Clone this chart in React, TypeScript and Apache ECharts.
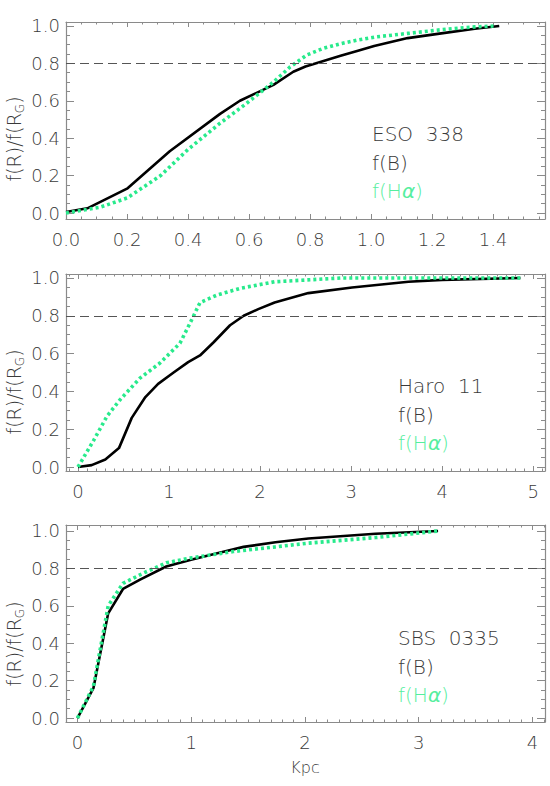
import React, { useEffect, useRef } from "react";
import * as echarts from "echarts";

// ---------------- data ----------------
// Panel 1: ESO 338
const ESO_B: number[][] = [
  [0, 0.005], [0.07, 0.025], [0.2, 0.13], [0.34, 0.33], [0.505, 0.53], [0.57, 0.6],
  [0.68, 0.685], [0.745, 0.755], [0.785, 0.783], [0.82, 0.8], [0.9, 0.84], [0.957, 0.867],
  [1.01, 0.893], [1.12, 0.935], [1.23, 0.96], [1.34, 0.985], [1.42, 1.0],
];
const ESO_HA: number[][] = [
  [0, 0.0], [0.11, 0.03], [0.2, 0.08], [0.31, 0.2], [0.4, 0.34], [0.505, 0.48],
  [0.587, 0.58], [0.68, 0.7], [0.734, 0.78], [0.79, 0.845], [0.843, 0.88], [0.9, 0.905],
  [0.957, 0.925], [1.01, 0.94], [1.12, 0.96], [1.23, 0.98], [1.34, 0.995], [1.41, 1.0],
];
// Panel 2: Haro 11
const HARO_B: number[][] = [
  [0, 0], [0.15, 0.01], [0.3, 0.04], [0.45, 0.1], [0.59, 0.26], [0.74, 0.37],
  [0.88, 0.44], [1.05, 0.5], [1.21, 0.555], [1.34, 0.59], [1.49, 0.66], [1.67, 0.75],
  [1.82, 0.8], [1.98, 0.835], [2.16, 0.87], [2.53, 0.92], [3.01, 0.95], [3.63, 0.98],
  [4.0, 0.99], [4.86, 1.0],
];
const HARO_HA: number[][] = [
  [0, 0], [0.17, 0.14], [0.32, 0.27], [0.46, 0.355], [0.68, 0.47], [0.9, 0.55],
  [1.12, 0.655], [1.25, 0.78], [1.34, 0.87], [1.53, 0.91], [1.78, 0.945],
  [2.16, 0.98], [2.9, 1.0], [4.86, 1.0],
];
// Panel 3: SBS 0335
const SBS_B: number[][] = [
  [0, 0], [0.14, 0.16], [0.27, 0.56], [0.4, 0.69], [0.55, 0.74], [0.78, 0.81],
  [0.99, 0.845], [1.22, 0.88], [1.46, 0.915], [1.74, 0.94], [2.03, 0.96],
  [2.62, 0.985], [3.17, 1.0],
];
const SBS_HA: number[][] = [
  [0, 0], [0.14, 0.17], [0.27, 0.6], [0.4, 0.72], [0.58, 0.775], [0.78, 0.83],
  [0.99, 0.855], [1.37, 0.89], [1.74, 0.915], [2.03, 0.935], [2.62, 0.965], [3.17, 1.0],
];

const PANEL_NAMES = ["ESO  338", "Haro  11", "SBS  0335"];
const THRESHOLD = 0.8;

// tick labels
const Y_MAJOR = [0, 0.2, 0.4, 0.6, 0.8, 1.0];
const X_MAJOR_1 = [0, 0.2, 0.4, 0.6, 0.8, 1.0, 1.2, 1.4];
const X_MAJOR_2 = [0, 1, 2, 3, 4, 5];
const X_MAJOR_3 = [0, 1, 2, 3, 4];
const X_TITLE = "Kpc";

// ---------------- styling ----------------
const FONT = "'DejaVu Sans', 'Liberation Sans', sans-serif";
const FW = 200;
const AX = "#8a8a8a";
const TXT = "#3a3a3a";
const GREEN = "#28ea8c";
const GREEN_TXT = "#55ee9e";

function steps(a: number, b: number, s: number): number[] {
  const out: number[] = [];
  const n = Math.round((b - a) / s);
  for (let i = 0; i <= n; i++) out.push(+(a + i * s).toFixed(4));
  return out;
}

const Y_MINOR = steps(0, 1, 0.05);

type PanelCfg = {
  top: number;
  xmin: number;
  xmax: number;
  ymin: number;
  ymax: number;
  xMajor: number[];
  xMinor: number[];
  xFmt: (v: number) => string;
  b: number[][];
  ha: number[][];
  name: string;
  textX: number;
  textY: number;
  titleY: number;
};

const GRID_LEFT = 66;
const GRID_RIGHT = 5;
const GRID_H = 197;

const PANELS: PanelCfg[] = [
  {
    top: 22, xmin: 0, xmax: 1.57, ymin: -0.032, ymax: 1.021,
    xMajor: X_MAJOR_1, xMinor: steps(0, 1.55, 0.05), xFmt: (v) => v.toFixed(1),
    b: ESO_B, ha: ESO_HA, name: PANEL_NAMES[0], textX: 372, textY: 133, titleY: 139,
  },
  {
    top: 274, xmin: -0.132, xmax: 5.13, ymin: -0.021, ymax: 1.021,
    xMajor: X_MAJOR_2, xMinor: steps(-0.1, 5.1, 0.1), xFmt: (v) => String(Math.round(v)),
    b: HARO_B, ha: HARO_HA, name: PANEL_NAMES[1], textX: 398, textY: 385, titleY: 392,
  },
  {
    top: 525, xmin: -0.101, xmax: 4.11, ymin: -0.021, ymax: 1.032,
    xMajor: X_MAJOR_3, xMinor: steps(-0.1, 4.1, 0.1), xFmt: (v) => String(Math.round(v)),
    b: SBS_B, ha: SBS_HA, name: PANEL_NAMES[2], textX: 398, textY: 637, titleY: 644,
  },
];

function axis(
  g: number, pos: string, min: number, max: number, ticks: number[], len: number,
  labels: boolean, fmt: ((v: number) => string) | null, margin: number, line: boolean,
) {
  return {
    type: "value",
    gridIndex: g,
    position: pos,
    min,
    max,
    axisLine: { show: line, onZero: false, lineStyle: { color: AX, width: 1.2 } },
    axisTick: { show: true, inside: true, length: len, customValues: ticks, lineStyle: { color: AX, width: 1 } },
    axisLabel: labels
      ? {
          show: true, customValues: ticks, formatter: fmt, fontSize: 18,
          color: TXT, fontFamily: FONT, fontWeight: FW, margin,
        }
      : { show: false },
    splitLine: { show: false },
  };
}

export default function App() {
  const ref = useRef<HTMLDivElement>(null);

  useEffect(() => {
    document.body.style.margin = "0";
    if (!ref.current) return;
    const chart = echarts.init(ref.current, null, { renderer: "svg" });

    const grid: any[] = [];
    const xAxis: any[] = [];
    const yAxis: any[] = [];
    const series: any[] = [];
    const graphic: any[] = [];

    PANELS.forEach((p, g) => {
      grid.push({ left: GRID_LEFT, right: GRID_RIGHT, top: p.top, height: GRID_H });
      xAxis.push(axis(g, "bottom", p.xmin, p.xmax, p.xMajor, 5, true, p.xFmt, 11, true));
      xAxis.push(axis(g, "bottom", p.xmin, p.xmax, p.xMinor, 2.5, false, null, 0, false));
      xAxis.push(axis(g, "top", p.xmin, p.xmax, p.xMajor, 5, false, null, 0, true));
      xAxis.push(axis(g, "top", p.xmin, p.xmax, p.xMinor, 2.5, false, null, 0, false));
      const yf = (v: number) => v.toFixed(1);
      yAxis.push(axis(g, "left", p.ymin, p.ymax, Y_MAJOR, 8, true, yf, 6, true));
      yAxis.push(axis(g, "left", p.ymin, p.ymax, Y_MINOR, 4, false, null, 0, false));
      yAxis.push(axis(g, "right", p.ymin, p.ymax, Y_MAJOR, 8, false, null, 0, true));
      yAxis.push(axis(g, "right", p.ymin, p.ymax, Y_MINOR, 4, false, null, 0, false));

      series.push({
        type: "line",
        name: "f(B)",
        xAxisIndex: g * 4,
        yAxisIndex: g * 4,
        data: p.b,
        showSymbol: false,
        symbol: "none",
        lineStyle: { color: "#000", width: 2.6, join: "round" },
        z: 3,
        markLine: {
          silent: true,
          symbol: "none",
          label: { show: false },
          lineStyle: { color: "#555", width: 1, type: [9, 5] },
          data: [{ yAxis: THRESHOLD }],
          animation: false,
        },
      });
      series.push({
        type: "line",
        name: "f(Hα)",
        xAxisIndex: g * 4,
        yAxisIndex: g * 4,
        data: p.ha,
        showSymbol: false,
        symbol: "none",
        lineStyle: { color: GREEN, width: 3.6, type: [3, 3], cap: "butt" },
        z: 4,
      });

      graphic.push({
        type: "text",
        left: p.textX,
        top: p.textY - 13,
        style: {
          text: p.name + "\nf(B)\n{g|f(H}{a|α}{g|)}",
          fontSize: 20,
          lineHeight: 28.5,
          fill: TXT,
          fontFamily: FONT,
          fontWeight: FW,
          rich: {
            g: { fill: GREEN_TXT, fontSize: 20, fontFamily: FONT, fontWeight: FW, lineHeight: 28.5 },
            a: { fill: GREEN_TXT, fontSize: 20, fontFamily: FONT, fontWeight: "normal", fontStyle: "italic", lineHeight: 28.5 },
          },
        },
      });

      graphic.push({
        type: "text",
        x: 14,
        y: p.titleY,
        rotation: Math.PI / 2,
        style: {
          text: "f(R)/f(R{s|G})",
          fontSize: 19,
          lineHeight: 24,
          fill: TXT,
          fontFamily: FONT,
          fontWeight: FW,
          align: "center",
          verticalAlign: "middle",
          rich: {
            s: { fontSize: 12, lineHeight: 13, verticalAlign: "bottom", fill: TXT, fontFamily: FONT, fontWeight: FW },
          },
        },
      });
    });

    graphic.push({
      type: "text",
      x: 305,
      y: 767,
      style: {
        text: X_TITLE,
        fontSize: 16,
        fill: TXT,
        fontFamily: FONT,
        fontWeight: FW,
        align: "center",
        verticalAlign: "middle",
      },
    });

    chart.setOption({
      animation: false,
      backgroundColor: "#ffffff",
      grid,
      xAxis,
      yAxis,
      series,
      graphic,
    });

    return () => chart.dispose();
  }, []);

  return <div ref={ref} style={{ width: 550, height: 786 }} />;
}
